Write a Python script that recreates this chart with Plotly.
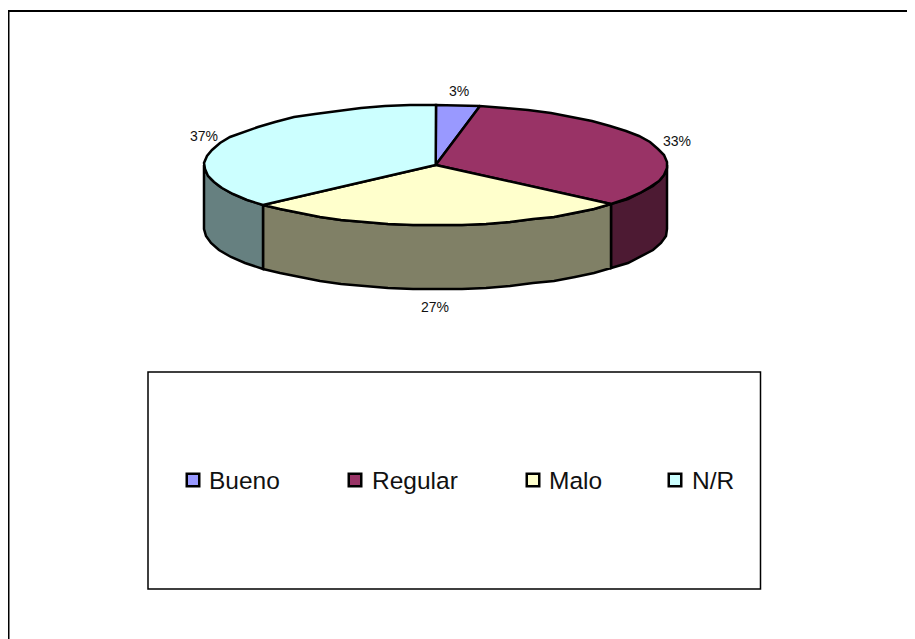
"""Elliptical 3D-style pie of survey answers with a boxed legend below."""

import numpy as np
import plotly.graph_objects as go

# data
categories = ["Bueno", "Regular", "Malo", "N/R"]
answers = [3.05, 33.3, 27.1, 36.55]

# style
top_colors = ["#9999FF", "#993366", "#FFFFCC", "#CCFFFF"]
side_colors = ["#4D4D80", "#4D1A33", "#808066", "#668080"]
FONT = "Liberation Sans"
TEXT_COLOR = "#111111"
EDGE = dict(color="black", width=2.5)

# layout, all in page pixels
CX, CY = 435.7, 165
RX, RY = 231.5, 60
DEPTH = 64
label_x = [459, 677, 435, 204]
label_y = [91, 141, 307, 136]
swatch_x = [193, 355, 533, 675]
legend_text_x = [209, 372, 549, 692]
LEGEND_Y = 480

shares = np.array(answers) / sum(answers)
edges = np.concatenate([[0], np.cumsum(shares)]) * 360


def arc(start, end):
    """Rim points, angles clockwise from the top, snapped to whole pixels like the faceted rim."""
    n = max(int(abs(end - start) / 6), 1) + 1
    t = np.radians(np.linspace(start, end, n))
    return np.round(CX + RX * np.sin(t)), np.round(CY - RY * np.cos(t))


fig = go.Figure()

# visible wall runs along the front half of the rim, 90 to 270 degrees
for i in range(len(answers)):
    start, end = max(edges[i], 90), min(edges[i + 1], 270)
    if start >= end:
        continue
    x, y = arc(start, end)
    fig.add_trace(go.Scatter(
        x=np.concatenate([x, x[::-1], x[:1]]),
        y=np.concatenate([y, y[::-1] + DEPTH, y[:1]]),
        mode="lines", fill="toself", fillcolor=side_colors[i],
        line=EDGE,
        hoverinfo="skip",
    ))

# top faces
for i, name in enumerate(categories):
    x, y = arc(edges[i], edges[i + 1])
    fig.add_trace(go.Scatter(
        x=np.concatenate([[CX], x, [CX]]),
        y=np.concatenate([[CY], y, [CY]]),
        mode="lines", fill="toself", fillcolor=top_colors[i],
        line=EDGE,
        name=name, hoverinfo="name",
    ))

# legend swatches
fig.add_trace(go.Scatter(
    x=swatch_x, y=[LEGEND_Y] * len(swatch_x),
    mode="markers",
    marker=dict(symbol="square", size=12.5, color=top_colors,
                line=dict(color="black", width=2.5)),
    hoverinfo="skip",
))

for i, name in enumerate(categories):
    fig.add_annotation(
        x=label_x[i], y=label_y[i], text=f"{shares[i] * 100:.0f}%",
        showarrow=False, xanchor="center", yanchor="middle",
        font=dict(family=FONT, size=14, color=TEXT_COLOR),
    )
    fig.add_annotation(
        x=legend_text_x[i], y=LEGEND_Y, text=name,
        showarrow=False, xanchor="left", yanchor="middle", xshift=-2,
        font=dict(family=FONT, size=24.5, color=TEXT_COLOR),
    )

# outer chart frame (open on the right and at the bottom) and legend box
frame = dict(color="black", width=2)
fig.add_shape(type="line", x0=8.5, x1=8.5, y0=11, y1=639, line=frame)
fig.add_shape(type="line", x0=8, x1=915, y0=11, y1=11, line=frame)
fig.add_shape(type="rect", x0=148, x1=760.5, y0=372, y1=589,
              line=dict(color="black", width=1.5))

fig.update_layout(
    width=907, height=631,
    margin=dict(l=0, r=0, t=0, b=0),
    paper_bgcolor="white", plot_bgcolor="white",
    showlegend=False,
    xaxis=dict(range=[8, 915], visible=False, fixedrange=True),
    yaxis=dict(range=[639, 8], visible=False, fixedrange=True),
)

fig.write_html("out.html")
